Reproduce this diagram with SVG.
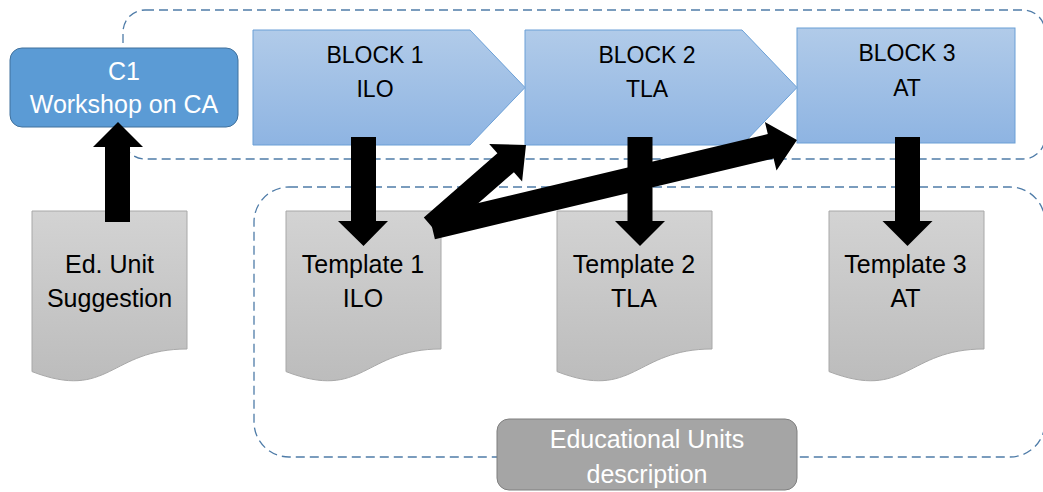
<svg xmlns="http://www.w3.org/2000/svg" width="1043" height="492" viewBox="0 0 1043 492">
<defs>
<linearGradient id="gBlock" x1="0" y1="0" x2="0" y2="1">
<stop offset="0" stop-color="#b1cbe9"/>
<stop offset="1" stop-color="#8eb4e2"/>
</linearGradient>
<linearGradient id="gDoc" x1="0" y1="0" x2="0" y2="1">
<stop offset="0" stop-color="#d3d3d3"/>
<stop offset="1" stop-color="#bcbcbc"/>
</linearGradient>
<style>
.dash{fill:none;stroke:#4f7ca8;stroke-width:1.3;stroke-dasharray:9 5}
.block{fill:url(#gBlock);stroke:#6a9fd6;stroke-width:1}
.doc{fill:url(#gDoc);stroke:#a8a8a8;stroke-width:1}
.t{font-family:"Liberation Sans",Arial,sans-serif;text-anchor:middle}
.tb{font-size:23px;fill:#000}
.td{font-size:25px;fill:#000}
.tw{font-size:25px;fill:#fff}
.arrow{fill:#000}
</style>
</defs>
<g id="groups">
<rect class="dash" x="123" y="10" width="922" height="149" rx="22"/>
<rect class="dash" x="254" y="187" width="791" height="270" rx="35"/>
</g>
<g id="block1">
<path class="block" d="M253,30 H470 L525,87.5 L470,145 H253 Z"/>
<text class="t tb" x="375" y="63">BLOCK 1</text>
<text class="t tb" x="375" y="97">ILO</text>
</g>
<g id="block2">
<path class="block" d="M525,30 H742 L797,87.5 L742,145 H525 Z"/>
<text class="t tb" x="647" y="63">BLOCK 2</text>
<text class="t tb" x="647" y="97">TLA</text>
</g>
<g id="block3">
<rect class="block" x="797" y="28" width="218" height="115"/>
<text class="t tb" x="907" y="61">BLOCK 3</text>
<text class="t tb" x="907" y="96">AT</text>
</g>
<g id="c1">
<rect x="10" y="48" width="228" height="79" rx="12" fill="#5b9bd5" stroke="#41719c" stroke-width="1"/>
<text class="t tw" x="124" y="80">C1</text>
<text class="t tw" x="124" y="113">Workshop on CA</text>
</g>
<g id="doc-ed-unit">
<path class="doc" d="M32,211 H187 V349 C109.5,349 109.5,401.4 32,371.6 Z"/>
<text class="t td" x="109.5" y="273">Ed. Unit</text>
<text class="t td" x="109.5" y="307">Suggestion</text>
</g>
<g id="template1">
<path class="doc" d="M286,211 H441 V349 C363.5,349 363.5,401.4 286,371.6 Z"/>
<text class="t td" x="363" y="273">Template 1</text>
<text class="t td" x="363" y="307">ILO</text>
</g>
<g id="template2">
<path class="doc" d="M557,211 H712 V349 C634.5,349 634.5,401.4 557,371.6 Z"/>
<text class="t td" x="634" y="273">Template 2</text>
<text class="t td" x="634" y="307">TLA</text>
</g>
<g id="template3">
<path class="doc" d="M829,211 H984 V349 C906.5,349 906.5,401.4 829,371.6 Z"/>
<text class="t td" x="905.5" y="273">Template 3</text>
<text class="t td" x="905.5" y="307">AT</text>
</g>
<g id="edu-units">
<rect x="497" y="419" width="300" height="71" rx="12" fill="#a5a5a5" stroke="#7f7f7f" stroke-width="1"/>
<text class="t tw" x="647" y="448">Educational Units</text>
<text class="t tw" x="647" y="483">description</text>
</g>
<g id="connectors">
<polygon class="arrow" points="105,222 105,147 93,147 118,122 143,147 130,147 130,222"/>
<polygon class="arrow" points="351,137 376,137 376,221 388,221 363.5,246 338,221 351,221"/>
<polygon class="arrow" points="627.5,137 652.5,137 652.5,221 665,221 640,246 615,221 627.5,221"/>
<polygon class="arrow" points="895,137 920,137 920,221 932.5,221 907.5,246 882.5,221 895,221"/>
<polygon class="arrow" points="440.2,236.4 513.9,172.2 522.1,181.6 526,145 489.2,143.9 497.4,153.3 423.8,217.6"/>
<polygon class="arrow" points="434.9,239.2 773.6,158.4 776.5,170.6 797,140 764.9,121.9 767.8,134.1 429.1,214.8"/>
</g>
</svg>
